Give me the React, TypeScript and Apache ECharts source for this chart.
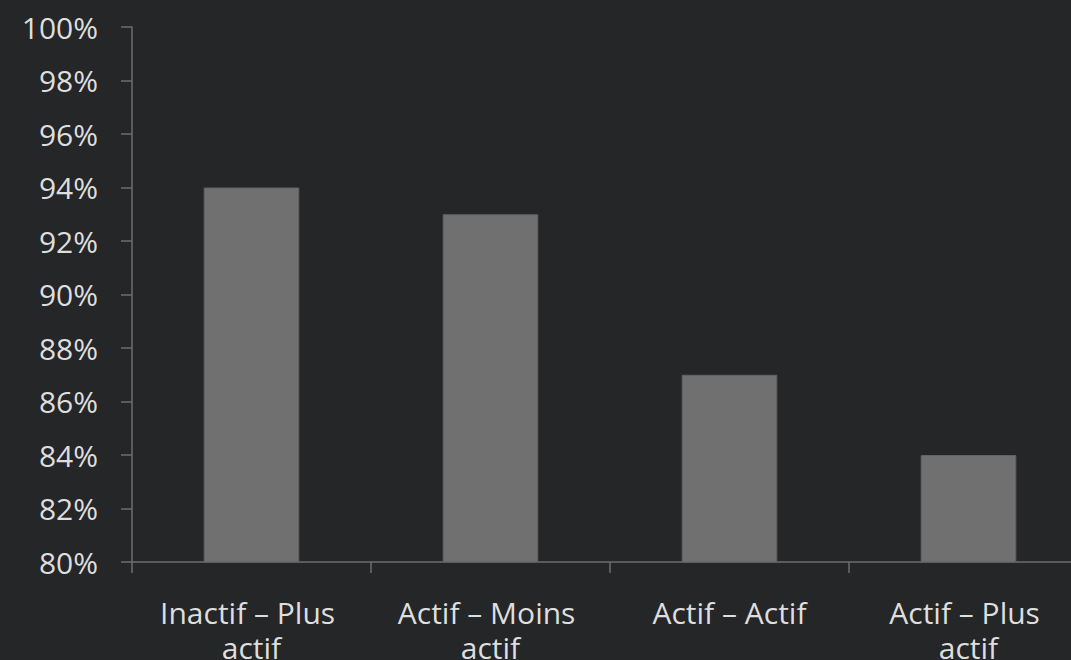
import React, { useEffect, useRef } from "react";
import * as echarts from "echarts";

const categories = ["Inactif – Plus actif", "Actif – Moins actif", "Actif – Actif", "Actif – Plus actif"];
const values = [94, 93, 87, 84];
const yMin = 80;
const yMax = 100;
const yStep = 2;

export default function App() {
  const ref = useRef<HTMLDivElement>(null);
  useEffect(() => {
    if (!ref.current) return;
    const chart = echarts.init(ref.current, null, { renderer: "svg" });
    chart.setOption({
      animation: false,
      backgroundColor: "#252628",
      textStyle: { fontFamily: "Open Sans" },
      grid: { left: 132, right: 0, top: 27, bottom: 98, containLabel: false, outerBoundsMode: "none" },
      xAxis: {
        type: "category",
        data: categories,
        axisLine: { lineStyle: { color: "#6e6e6e", width: 1.5 } },
        axisTick: { show: true, length: 11, alignWithLabel: false, lineStyle: { color: "#6e6e6e", width: 1.5 } },
        axisLabel: {
          color: "#dedede",
          fontSize: 30,
          fontFamily: "Open Sans",
          lineHeight: 35,
          margin: 33,
          width: 210,
          overflow: "break",
          interval: 0,
        },
      },
      yAxis: {
        type: "value",
        min: yMin,
        max: yMax,
        interval: yStep,
        splitLine: { show: false },
        axisLine: { show: true, lineStyle: { color: "#6e6e6e", width: 1.5 } },
        axisTick: { show: true, length: 11, lineStyle: { color: "#6e6e6e", width: 1.5 } },
        axisLabel: {
          color: "#dedede",
          fontSize: 30,
          fontFamily: "Open Sans",
          margin: 34,
          formatter: (v: number) => `${v}%`,
        },
      },
      series: [
        {
          type: "bar",
          data: values,
          barWidth: "40%",
          itemStyle: { color: "#707070", borderColor: "#626262", borderWidth: 1 },
        },
      ],
    });
    return () => chart.dispose();
  }, []);
  return (
    <div style={{ position: "fixed", left: 0, top: 0, width: 1071, height: 660, overflow: "hidden", background: "#252628" }}>
      <div ref={ref} style={{ width: 1088, height: 660 }} />
    </div>
  );
}
